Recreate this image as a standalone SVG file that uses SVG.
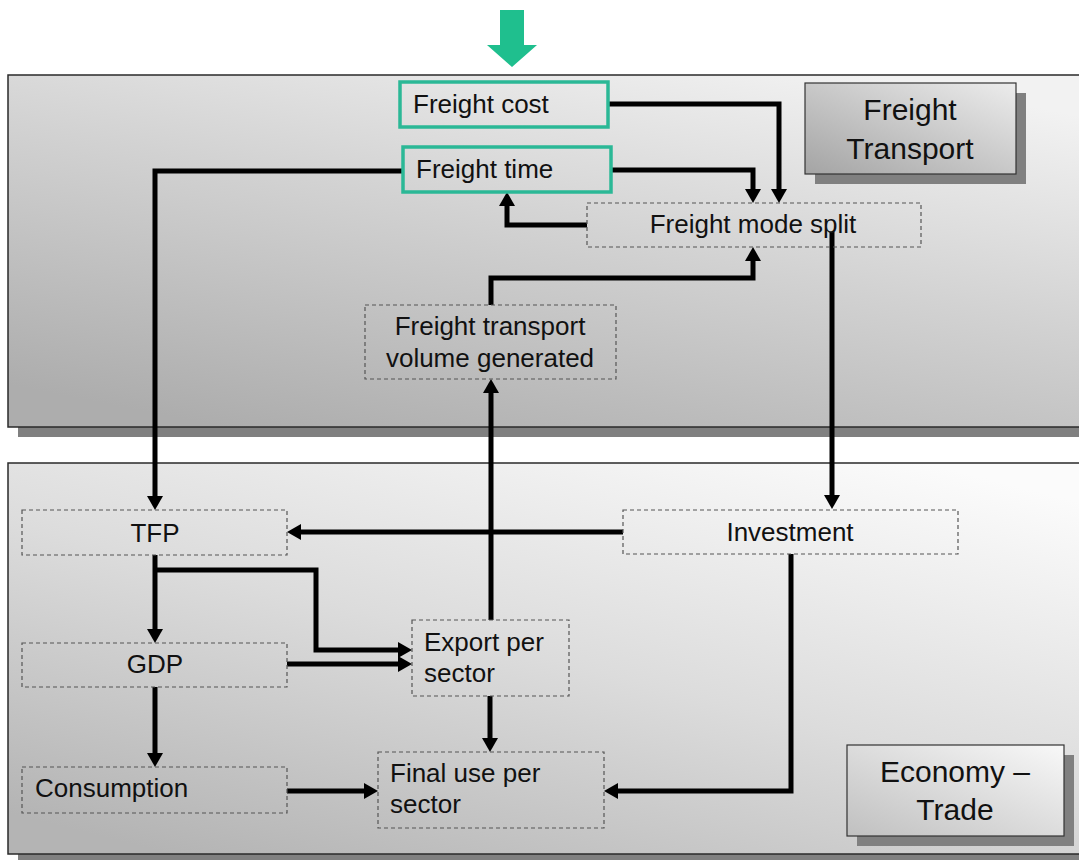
<svg xmlns="http://www.w3.org/2000/svg" width="1079" height="860" viewBox="0 0 1079 860">
  <defs>
    <linearGradient id="gradTop" x1="0.2" y1="1" x2="0.8" y2="0">
      <stop offset="0" stop-color="#adadad"/>
      <stop offset="0.55" stop-color="#d2d2d2"/>
      <stop offset="1" stop-color="#f2f2f2"/>
    </linearGradient>
    <linearGradient id="gradBottom" x1="0.15" y1="1" x2="0.85" y2="0">
      <stop offset="0" stop-color="#b4b4b4"/>
      <stop offset="0.5" stop-color="#dcdcdc"/>
      <stop offset="1" stop-color="#fbfbfb"/>
    </linearGradient>
    <linearGradient id="gradLabel" x1="0" y1="1" x2="1" y2="0">
      <stop offset="0" stop-color="#a4a4a4"/>
      <stop offset="1" stop-color="#ececec"/>
    </linearGradient>
    <linearGradient id="gradLabel2" x1="0" y1="1" x2="1" y2="0">
      <stop offset="0" stop-color="#c0c0c0"/>
      <stop offset="1" stop-color="#f8f8f8"/>
    </linearGradient>
    <marker id="head" viewBox="0 0 14 16" markerWidth="14" markerHeight="16" refX="4" refY="8" orient="auto" markerUnits="userSpaceOnUse">
      <path d="M0,0 L14,8 L0,16 Z" fill="#000"/>
    </marker>
  </defs>
  <style>
    .panel { stroke: #2a2a2a; stroke-width: 1.5; }
    .shadow { fill: #808080; }
    .node { fill: none; stroke: #555; stroke-width: 1.2; stroke-dasharray: 4 3; }
    .key { fill: none; stroke: #2bb896; stroke-width: 3.5; }
    .label { stroke: #333; stroke-width: 1.2; }
    .t { font-family: "Liberation Sans", Arial, sans-serif; font-size: 26px; fill: #111; }
    .title { font-family: "Liberation Sans", Arial, sans-serif; font-size: 30px; fill: #111; text-anchor: middle; }
    .c { text-anchor: middle; }
    .link { fill: none; stroke: #000; stroke-width: 5; marker-end: url(#head); }
    .plain { fill: none; stroke: #000; stroke-width: 5; }
  </style>

  <rect width="1079" height="860" fill="#ffffff"/>

  <!-- input arrow -->
  <g id="input-arrow">
    <path d="M500,10 H524 V45 H537 L512,67 L487,45 H500 Z" fill="#1fbf8e"/>
  </g>

  <!-- freight transport panel -->
  <g id="panel-freight">
    <rect class="shadow" x="18" y="85" width="1080" height="352"/>
    <rect class="panel" x="8" y="75" width="1080" height="352" fill="url(#gradTop)"/>
  </g>

  <!-- economy panel -->
  <g id="panel-economy">
    <rect class="shadow" x="18" y="473" width="1080" height="391"/>
    <rect class="panel" x="8" y="463" width="1080" height="391" fill="url(#gradBottom)"/>
  </g>

  <g id="label-freight-transport">
    <rect class="shadow" x="815" y="93" width="211" height="91"/>
    <rect class="label" x="805" y="83" width="211" height="91" fill="url(#gradLabel)"/>
    <text class="title" x="910" y="120">Freight</text>
    <text class="title" x="910" y="159">Transport</text>
  </g>

  <g id="label-economy-trade">
    <rect class="shadow" x="857" y="755" width="217" height="91"/>
    <rect class="label" x="847" y="745" width="217" height="91" fill="url(#gradLabel2)"/>
    <text class="title" x="955" y="782">Economy –</text>
    <text class="title" x="955" y="820">Trade</text>
  </g>

  <!-- connectors -->
  <g id="connectors">
    <path class="link" d="M608,104 H779 V193"/>
    <path class="link" d="M611,170 H753 V193"/>
    <path class="link" d="M587,225 H507 V202"/>
    <path class="link" d="M491,305 V278 H753 V257"/>
    <path class="link" d="M403,171 H155 V500"/>
    <path class="link" d="M832,232 V499"/>
    <path class="link" d="M623,532 H297"/>
    <path class="link" d="M155,555 V633"/>
    <path class="link" d="M155,570 H316 V650 H402"/>
    <path class="link" d="M287,664 H402"/>
    <path class="link" d="M155,687 V757"/>
    <path class="link" d="M491,620 V389"/>
    <path class="link" d="M490,696 V742"/>
    <path class="link" d="M287,791 H368"/>
    <path class="link" d="M791,554 V791 H614"/>
  </g>

  <!-- nodes -->
  <g id="freight-cost">
    <rect class="key" x="400" y="82" width="208" height="45"/>
    <text class="t" x="413" y="113">Freight cost</text>
  </g>
  <g id="freight-time">
    <rect class="key" x="403" y="147" width="208" height="45"/>
    <text class="t" x="416" y="178">Freight time</text>
  </g>
  <g id="freight-mode-split">
    <rect class="node" x="587" y="203" width="334" height="44"/>
    <text class="t c" x="753" y="233">Freight mode split</text>
  </g>
  <g id="freight-volume">
    <rect class="node" x="365" y="305" width="251" height="74"/>
    <text class="t c" x="490" y="335">Freight transport</text>
    <text class="t c" x="490" y="367">volume generated</text>
  </g>
  <g id="tfp">
    <rect class="node" x="22" y="510" width="265" height="45"/>
    <text class="t c" x="155" y="542">TFP</text>
  </g>
  <g id="investment">
    <rect class="node" x="623" y="510" width="335" height="44"/>
    <text class="t c" x="790" y="541">Investment</text>
  </g>
  <g id="gdp">
    <rect class="node" x="22" y="643" width="265" height="44"/>
    <text class="t c" x="155" y="673">GDP</text>
  </g>
  <g id="export">
    <rect class="node" x="412" y="620" width="157" height="76"/>
    <text class="t" x="424" y="651">Export per</text>
    <text class="t" x="424" y="682">sector</text>
  </g>
  <g id="consumption">
    <rect class="node" x="22" y="767" width="265" height="46"/>
    <text class="t" x="35" y="797">Consumption</text>
  </g>
  <g id="final-use">
    <rect class="node" x="378" y="752" width="226" height="76"/>
    <text class="t" x="390" y="782">Final use per</text>
    <text class="t" x="390" y="813">sector</text>
  </g>
</svg>
